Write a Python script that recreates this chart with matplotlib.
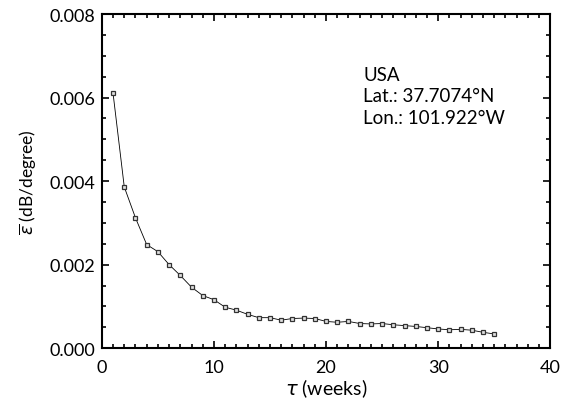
import matplotlib
matplotlib.use('Agg')
import matplotlib.pyplot as plt
from matplotlib.ticker import MultipleLocator, FormatStrFormatter

plt.rcParams['font.family'] = ['Lato', 'DejaVu Sans']
plt.rcParams['mathtext.fontset'] = 'dejavusans'

# Mean error per week
weeks = list(range(1, 36))
eps_mean = [0.00610, 0.00386, 0.00312, 0.00248, 0.00231, 0.00200, 0.00174,
            0.00146, 0.00126, 0.00116, 0.00098, 0.00091, 0.00081, 0.00073,
            0.00073, 0.00067, 0.00071, 0.00072, 0.00071, 0.00064, 0.00062,
            0.00064, 0.00059, 0.00058, 0.00059, 0.00056, 0.00054, 0.00052,
            0.00049, 0.00046, 0.00044, 0.00045, 0.00043, 0.00038, 0.00034]

site_text = 'USA\nLat.: 37.7074°N\nLon.: 101.922°W'

fig = plt.figure(figsize=(5.69, 4.06), dpi=100)
ax = fig.add_axes([0.179, 0.140, 0.788, 0.823])

ax.plot(weeks, eps_mean, '-', color='black', lw=0.6,
        marker='s', ms=3.5, mfc='#e0e0e0', mec='#333333', mew=0.9)

ax.set_xlim(0, 40)
ax.set_ylim(0, 0.008)
ax.xaxis.set_major_locator(MultipleLocator(10))
ax.xaxis.set_minor_locator(MultipleLocator(1))
ax.yaxis.set_major_locator(MultipleLocator(0.002))
ax.yaxis.set_minor_locator(MultipleLocator(0.0005))
ax.yaxis.set_major_formatter(FormatStrFormatter('%.3f'))

for s in ax.spines.values():
    s.set_linewidth(1.5)
ax.tick_params(which='both', direction='in', top=True, right=True, width=1.2,
               labelsize=13, colors='black')
ax.tick_params(which='major', length=5, pad=5)
ax.tick_params(which='minor', length=3)
ax.tick_params(axis='x', which='major', pad=8)

ax.set_xlabel(r'$\tau$ (weeks)', fontsize=14, labelpad=1)
ax.set_ylabel(r'$\overline{\varepsilon}$ (dB/degree)', fontsize=12.5, labelpad=7)

ax.text(23.3, 0.00675, site_text, fontsize=13.5, va='top', ha='left',
        linespacing=1.3)

fig.savefig('out.png', dpi=100)
